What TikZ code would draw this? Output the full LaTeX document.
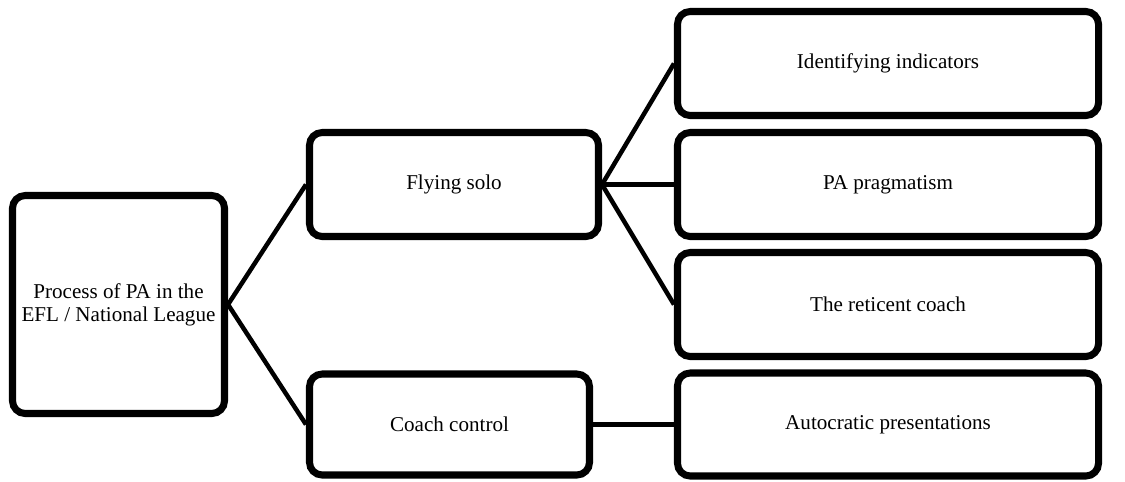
\documentclass[tikz,border=0pt]{standalone}
\usepackage{fontspec}
\setmainfont{Liberation Serif}
\usetikzlibrary{positioning}
\definecolor{cblack}{HTML}{000000}
\tikzset{
  every picture/.style={font=\fontsize{15}{16.5}\selectfont},
  box/.style={draw=cblack, fill=white, rounded corners=9pt, align=center, line width=5pt, inner sep=4pt},
  link/.style={draw=cblack, line width=3.2pt},
}

\begin{document}
\begin{tikzpicture}[leaf/.style={box, minimum width=10.525cm, minimum height=2.6cm},
  mid/.style={box, minimum height=2.6cm}]
  \useasboundingbox (0,0) rectangle (28.125,-12.025);
  \node[box, minimum width=5.3cm, minimum height=5.45cm] (root) at (2.9625,-7.6125) {Process of PA in the\\EFL / National League};
  \node[mid, minimum width=7.225cm] (solo) at (11.35,-4.6125) {Flying solo};
  \node[mid, minimum width=7cm, minimum height=2.525cm] (ctrl) at (11.2375,-10.6125) {Coach control};
  \foreach \t/\y [count=\i] in {Identifying indicators/-1.5875, PA pragmatism/-4.6125, The reticent coach/-7.6125} {
    \node[leaf] (l\i) at (22.2,\y) {\t};
    \draw[link] (solo.east) -- (l\i.west);
  }
  \node[leaf, minimum height=2.575cm] (auto) at (22.2,-10.6125) {Autocratic presentations};
  \draw[link] (root.east) -- (solo.west);
  \draw[link] (root.east) -- (ctrl.west);
  \draw[link] (ctrl.east) -- (auto.west);
\end{tikzpicture}
\end{document}
